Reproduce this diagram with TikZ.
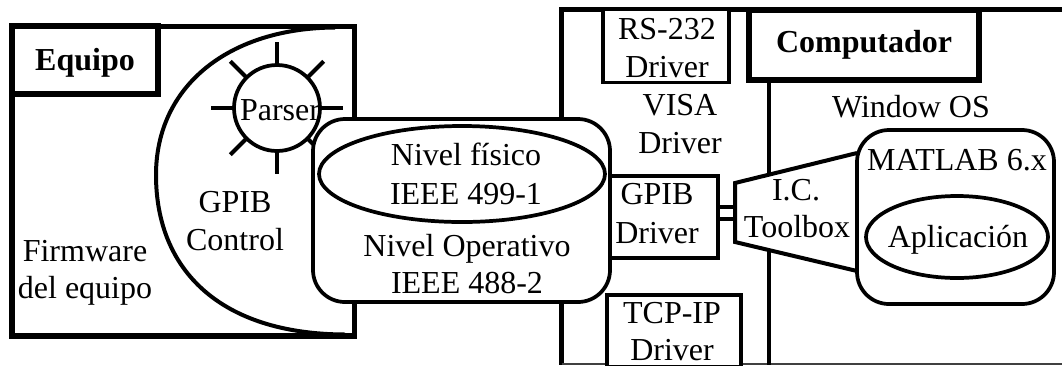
\documentclass[tikz,border=0pt]{standalone}
\usepackage{fontspec}
\setmainfont{Liberation Serif}
\usetikzlibrary{calc,shapes.geometric}
\tikzset{
  x=0.75pt,y=-0.75pt,
  lbl/.style={anchor=base,inner sep=0pt,outer sep=0pt,font=\fontsize{24}{24}\selectfont},
  blbl/.style={lbl,font=\fontsize{24}{24}\selectfont\bfseries},
  heavy/.style={draw=black,line width=4.4pt,fill=white,rectangle,inner sep=0pt,outer sep=0pt},
  medium/.style={draw=black,line width=2.8pt,fill=white,inner sep=0pt,outer sep=0pt},
  thin box/.style={draw=black,line width=2.4pt,fill=white,rectangle,inner sep=0pt,outer sep=0pt},
  round box/.style={medium,rectangle,rounded corners=24pt},
  oval/.style={medium,ellipse},
}
\begin{document}
\begin{tikzpicture}
\useasboundingbox (0,0) rectangle (1062,365);
% --- Equipo side
\node[heavy,minimum width=342.2*0.75pt,minimum height=309.5*0.75pt] (equipo) at (183.4,181.3) {};
\coordinate (dtop) at (335,27.5);
\coordinate (dleft) at (156,175);
\coordinate (dbot) at (345,334.5);
\draw[line width=3pt] (dtop) .. controls (230,28) and (156,85) .. (dleft)
   .. controls (156,270) and (220,334) .. (dbot);
\node[heavy,minimum width=146*0.75pt,minimum height=67.5*0.75pt] (equipolabel) at (85.3,60) {};
\node[blbl] (tequipo) at (85,70.7) {Equipo};
\node[lbl] (tfirm) at (85,261.7) {Firmware};
\node[lbl] (tdel) at (85,298) {del equipo};
\node[lbl] (tgpibc) at (235,212.7) {GPIB};
\node[lbl] (tctrl) at (235,250.7) {Control};
% parser sun
\node[circle,minimum size=86*0.75pt,inner sep=0pt,outer sep=0pt] (parser) at (277,108) {};
\foreach \a in {0,45,...,315}{
  \coordinate (ray\a) at ($(parser.center)+(-\a:66)$);
  \draw[line width=3pt] (parser.\a) -- (ray\a);
}
% --- Computer side frame
\coordinate (ftr) at (1062,9.5);
\coordinate (ftl) at (561.7,9.5);
\coordinate (fbl) at (561.7,365);
\draw[line width=3.6pt] (ftr) -- (ftl) -- (fbl);
\coordinate (fbl2) at (561.7,364);
\coordinate (fbr2) at (1062,364);
\draw[line width=1.2pt,black!75] (fbl2) -- (fbr2);
\coordinate (vtop) at (769,80);
\coordinate (vbot) at (769,365);
\draw[line width=2.4pt] (vtop) -- (vbot);
\node[thin box,minimum width=126*0.75pt,minimum height=73*0.75pt] (rs) at (666,46) {};
\node[thin box,minimum width=134*0.75pt,minimum height=72*0.75pt] (tcp) at (674,331) {};
\node[lbl] (trs) at (667,39) {RS-232};
\node[lbl] (trsd) at (667,77) {Driver};
\node[lbl] (tvisa) at (680,115) {VISA};
\node[lbl] (tvisad) at (680,153) {Driver};
\node[lbl] (ttcp) at (672,323) {TCP-IP};
\node[lbl] (ttcpd) at (672,360.5) {Driver};
\node[heavy,minimum width=230*0.75pt,minimum height=70*0.75pt] (comp) at (864,45) {};
\node[blbl] (tcomp) at (864,52.7) {Computador};
\node[lbl] (twin) at (911,117) {Window OS};
% GPIB driver
\node[medium,rectangle,minimum width=118*0.75pt,minimum height=82*0.75pt] (gdrv) at (659,217) {};
\node[lbl] (tg) at (657,204) {GPIB};
\node[lbl] (tgd) at (657,243) {Driver};
% connector and toolbox
\node[medium,rectangle,minimum width=17*0.75pt,minimum height=12*0.75pt] (conn) at (726.5,213) {};
\coordinate (t1) at (735,183);
\coordinate (t2) at (857,153);
\coordinate (t3) at (857,271);
\coordinate (t4) at (735,242);
\draw[line width=3pt,fill=white] (t2) -- (t1) -- (t4) -- (t3);
\node[lbl] (tic) at (796,200) {I.C.};
\node[lbl] (ttool) at (797,237) {Toolbox};
% MATLAB
\node[round box,minimum width=197*0.75pt,minimum height=174*0.75pt] (matlab) at (955.5,217) {};
\node[lbl] (tmat) at (957,170) {MATLAB 6.x};
\node[oval,minimum width=182*0.75pt,minimum height=82*0.75pt] (app) at (957,237) {};
\node[lbl] (tapp) at (958,247) {Aplicación};
% --- GPIB bus
\node[round box,minimum width=297*0.75pt,minimum height=183*0.75pt] (bus) at (461.5,210.5) {};
\node[oval,minimum width=286*0.75pt,minimum height=96*0.75pt] (phys) at (462,174) {};
\node[lbl] (tn1) at (466,165.7) {Nivel físico};
\node[lbl] (tn2) at (466,204) {IEEE 499-1};
\node[lbl] (tn3) at (467,256) {Nivel Operativo};
\node[lbl] (tn4) at (467,293) {IEEE 488-2};
% parser outline on top
\node[draw=black,line width=2.8pt,circle,minimum size=86*0.75pt,inner sep=0pt,outer sep=0pt] (parserring) at (277,108) {};
\node[lbl] (tparser) at (280,120) {Parser};
\end{tikzpicture}
\end{document}
